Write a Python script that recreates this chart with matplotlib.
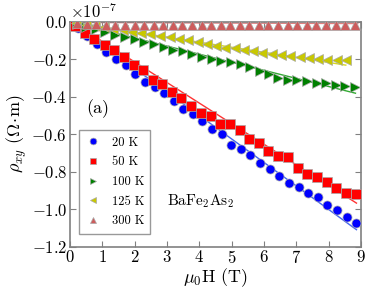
import numpy as np
import matplotlib
matplotlib.use("Agg")
import matplotlib.pyplot as plt

plt.rcParams['font.family'] = 'serif'
plt.rcParams['font.serif'] = ['cmr10', 'DejaVu Serif']
plt.rcParams['mathtext.fontset'] = 'cm'
plt.rcParams['axes.formatter.use_mathtext'] = True
plt.rcParams['axes.unicode_minus'] = True

# field values (T) and rho_xy (units of 1e-7 Ohm m)
B_20K = [0.24, 0.54, 0.84, 1.13, 1.43, 1.73, 2.02, 2.32, 2.62, 2.92, 3.21, 3.50, 3.80, 4.09, 4.39,
         4.69, 4.99, 5.28, 5.58, 5.89, 6.18, 6.47, 6.77, 7.07, 7.37, 7.66, 7.96, 8.26, 8.56, 8.86]
rho_20K = [-0.033, -0.077, -0.119, -0.160, -0.198, -0.232, -0.280, -0.323, -0.349, -0.382,
           -0.421, -0.463, -0.494, -0.530, -0.570, -0.600, -0.657, -0.680, -0.712, -0.754,
           -0.785, -0.823, -0.858, -0.883, -0.915, -0.938, -0.980, -1.005, -1.043, -1.073]

B_50K = [0.155, 0.46, 0.76, 1.07, 1.37, 1.67, 1.97, 2.27, 2.57, 2.86, 3.16, 3.45, 3.75, 4.05, 4.35,
         4.65, 4.95, 5.25, 5.54, 5.84, 6.14, 6.44, 6.74, 7.04, 7.34, 7.64, 7.94, 8.24, 8.54, 8.85]
rho_50K = [-0.020, -0.057, -0.094, -0.123, -0.151, -0.188, -0.229, -0.257, -0.312, -0.334,
           -0.374, -0.404, -0.449, -0.488, -0.502, -0.544, -0.543, -0.575, -0.625, -0.646,
           -0.691, -0.714, -0.723, -0.782, -0.812, -0.826, -0.855, -0.889, -0.915, -0.919]

B_100K = [0.21, 0.50, 0.80, 1.10, 1.40, 1.70, 2.00, 2.30, 2.60, 2.90, 3.19, 3.49, 3.79, 4.09, 4.38,
          4.68, 4.98, 5.28, 5.58, 5.87, 6.15, 6.44, 6.73, 7.03, 7.33, 7.63, 7.92, 8.22, 8.52, 8.81]
rho_100K = [-0.010, -0.025, -0.040, -0.055, -0.070, -0.083, -0.093, -0.106, -0.118, -0.132,
            -0.148, -0.158, -0.170, -0.185, -0.198, -0.207, -0.216, -0.226, -0.243, -0.261,
            -0.279, -0.300, -0.310, -0.313, -0.316, -0.324, -0.328, -0.337, -0.342, -0.349]

B_125K = [0.20, 0.49, 0.77, 1.06, 1.34, 1.63, 1.92, 2.20, 2.49, 2.78, 3.08, 3.37, 3.66, 3.95, 4.23,
          4.52, 4.80, 5.09, 5.38, 5.66, 5.95, 6.24, 6.53, 6.81, 7.10, 7.39, 7.67, 7.96, 8.25, 8.53]
rho_125K = [-0.006, -0.014, -0.022, -0.029, -0.037, -0.044, -0.052, -0.059, -0.066, -0.073,
            -0.083, -0.092, -0.099, -0.108, -0.118, -0.128, -0.137, -0.142, -0.149, -0.156,
            -0.164, -0.172, -0.178, -0.184, -0.188, -0.193, -0.198, -0.202, -0.205, -0.205]

B_300K = [0.22, 0.52, 0.81, 1.11, 1.40, 1.70, 2.00, 2.29, 2.59, 2.89, 3.18, 3.48, 3.77, 4.07, 4.37,
          4.66, 4.96, 5.25, 5.55, 5.85, 6.14, 6.44, 6.74, 7.03, 7.33, 7.62, 7.92, 8.22, 8.51, 8.81]
rho_300K = [-0.008, -0.012, -0.013, -0.014, -0.015, -0.015, -0.016, -0.016, -0.016, -0.016,
            -0.016, -0.016, -0.016, -0.016, -0.016, -0.016, -0.016, -0.016, -0.016, -0.016,
            -0.016, -0.016, -0.016, -0.016, -0.016, -0.016, -0.016, -0.016, -0.016, -0.016]

# linear fits: (start field, end field, rho at start, rho at end)
fit_20K = [0.10, 8.86, -0.010, -1.110]
fit_50K = [0.10, 8.86, -0.005, -0.968]
fit_100K = [0.10, 8.83, -0.004, -0.381]
fit_125K = [0.10, 8.53, -0.003, -0.231]
fit_300K = [0.00, 8.90, -0.003, -0.009]

labels = ['20 K', '50 K', '100 K', '125 K', '300 K']

fig = plt.figure(figsize=(3.82, 2.88), dpi=100)
ax = fig.add_axes([0.183, 0.144, 0.762, 0.78])

series = [
    (B_20K, rho_20K, fit_20K, 'o', '#0000ff', '#4466ee'),
    (B_50K, rho_50K, fit_50K, 's', '#ff0000', '#ff3333'),
    (B_100K, rho_100K, fit_100K, '>', '#008000', '#33aa33'),
    (B_125K, rho_125K, fit_125K, '<', '#c8c800', '#d8d820'),
    (B_300K, rho_300K, fit_300K, '^', '#cd5c5c', '#e08080'),
]

for (b, r, fit, m, c, lc), lab in zip(series, labels):
    ax.plot([fit[0], fit[1]], np.array([fit[2], fit[3]]) * 1e-7, '-', color=lc, lw=1.0, zorder=2)
    ax.plot(b, np.array(r) * 1e-7, m, color=c, ms=6.5, mec='#aaaaaa', mew=0.5,
            label=lab, zorder=3)

ax.set_xlim(0, 9)
ax.set_ylim(-1.2e-7, 0)
ax.set_xticks(range(10))
ax.set_yticks(np.arange(-1.2, 0.01, 0.2) * 1e-7)

for s in ax.spines.values():
    s.set_color('#808080')
    s.set_linewidth(1.2)
ax.tick_params(direction='in', color='#808080', labelsize=12, top=True, right=True,
               length=4, pad=2)
ax.yaxis.get_offset_text().set_fontsize(12)

ax.set_xlabel(r'$\mu_0$H (T)', fontsize=13, labelpad=0)
ax.set_ylabel(r'$\rho_{xy}$ ($\Omega\!\cdot\!$m)', fontsize=13, labelpad=2)

ax.text(0.52, -0.465e-7, '(a)', fontsize=13, va='center')
ax.text(3.0, -0.956e-7, r'BaFe$_2$As$_2$', fontsize=11, va='center')

leg = ax.legend(loc='lower left', bbox_to_anchor=(0.01, 0.03), fontsize=9, frameon=True,
                fancybox=False, edgecolor='#808080', markerscale=0.75, numpoints=1,
                handlelength=1.2, handletextpad=0.9, labelspacing=0.6, borderpad=0.5)
leg.get_frame().set_linewidth(1.0)

fig.savefig('out.png', dpi=100)
